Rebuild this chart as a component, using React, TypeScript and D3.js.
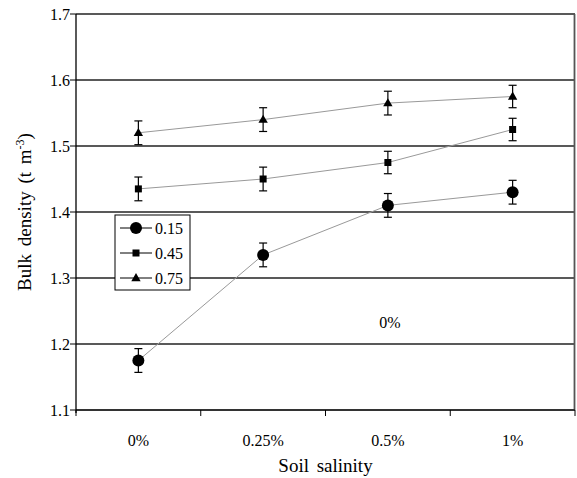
import React from "react";
import * as d3 from "d3";

const categories = ["0%", "0.25%", "0.5%", "1%"];
const seriesNames = ["0.15", "0.45", "0.75"];
const values015 = [1.175, 1.335, 1.41, 1.43];
const values045 = [1.435, 1.45, 1.475, 1.525];
const values075 = [1.52, 1.54, 1.565, 1.575];
const err015 = [0.018, 0.018, 0.018, 0.018];
const err045 = [0.018, 0.018, 0.017, 0.017];
const err075 = [0.018, 0.018, 0.018, 0.017];
const yTicks = [1.1, 1.2, 1.3, 1.4, 1.5, 1.6, 1.7];
const annotation = "0%";

const W = 577;
const H = 478;
const left = 76;
const right = 575;
const top = 14;
const bottom = 410;
const FONT = "'Liberation Serif', 'Times New Roman', Times, serif";
const ts = { fontFamily: FONT };

type Shape = "circle" | "square" | "triangle";
const series = [
  { name: seriesNames[0], values: values015, err: err015, shape: "circle" as Shape },
  { name: seriesNames[1], values: values045, err: err045, shape: "square" as Shape },
  { name: seriesNames[2], values: values075, err: err075, shape: "triangle" as Shape },
];

function Marker({ shape, x, y }: { shape: Shape; x: number; y: number }) {
  if (shape === "circle") return <circle cx={x} cy={y} r={6} fill="#000" />;
  if (shape === "square") return <rect x={x - 3.5} y={y - 3.5} width={7} height={7} fill="#000" />;
  const s = d3.symbol().type(d3.symbolTriangle).size(38)();
  return <path d={s || ""} transform={`translate(${x},${y + 0.5})`} fill="#000" />;
}

export default function App() {
  const x = d3.scaleBand<string>().domain(categories).range([left, right]);
  const y = d3.scaleLinear().domain([1.1, 1.7]).range([bottom, top]);
  const cx = (c: string) => (x(c) ?? 0) + x.bandwidth() / 2;
  const line = d3
    .line<number>()
    .x((_, i) => cx(categories[i]))
    .y((d) => y(d));
  const boundaries = [...categories.map((c) => x(c) ?? 0), right];

  const legendX = 115;
  const legendY = 215;
  const legendW = 75;
  const legendH = 75;

  return (
    <svg width={W} height={H} style={{ position: "absolute", left: 0, top: 0, background: "#fff" }}>
      <rect width={W} height={H} fill="#fff" />
      {yTicks.slice(1).map((t) => (
        <line key={t} x1={left} x2={right} y1={y(t)} y2={y(t)} stroke="#222" strokeWidth={1.3} />
      ))}
      <line x1={right - 0.5} x2={right - 0.5} y1={top} y2={bottom} stroke="#555" strokeWidth={1.8} />
      {yTicks.map((t) => (
        <g key={t}>
          <line x1={left - 6} x2={left} y1={y(t)} y2={y(t)} stroke="#000" strokeWidth={1} />
          <text x={70} y={y(t)} dy="0.35em" textAnchor="end" fontSize={16} fill="#000" style={ts}>
            {t.toFixed(1)}
          </text>
        </g>
      ))}
      <line x1={left} x2={right} y1={bottom} y2={bottom} stroke="#333" strokeWidth={2.2} />
      {boundaries.map((b, i) => (
        <line key={i} x1={b} x2={b} y1={bottom} y2={bottom + 6} stroke="#000" strokeWidth={1} />
      ))}
      {categories.map((c) => (
        <text key={c} x={cx(c)} y={446} textAnchor="middle" fontSize={16} fill="#000" style={ts}>
          {c}
        </text>
      ))}
      <line x1={left} x2={left} y1={top} y2={bottom + 3} stroke="#000" strokeWidth={1.3} />

      {series.map((s) => (
        <path key={s.name} d={line(s.values) || ""} fill="none" stroke="#999" strokeWidth={1} />
      ))}
      {series.map((s) =>
        s.values.map((v, i) => {
          const px = cx(categories[i]);
          const y1 = y(v + s.err[i]);
          const y2 = y(v - s.err[i]);
          return (
            <g key={s.name + i} stroke="#000" strokeWidth={1.2}>
              <line x1={px} x2={px} y1={y1} y2={y2} />
              <line x1={px - 4} x2={px + 4} y1={y1} y2={y1} />
              <line x1={px - 4} x2={px + 4} y1={y2} y2={y2} />
            </g>
          );
        })
      )}
      {series.map((s) =>
        s.values.map((v, i) => <Marker key={s.name + i} shape={s.shape} x={cx(categories[i])} y={y(v)} />)
      )}

      <text x={390} y={328} textAnchor="middle" fontSize={16} fill="#000" style={ts}>
        {annotation}
      </text>

      <rect x={legendX} y={legendY} width={legendW} height={legendH} fill="#fff" stroke="#000" strokeWidth={1} />
      {series.map((s, i) => {
        const ly = legendY + 13 + i * 25;
        return (
          <g key={s.name}>
            <line x1={legendX + 5} x2={legendX + 37} y1={ly} y2={ly} stroke="#000" strokeWidth={1} />
            <Marker shape={s.shape} x={legendX + 21} y={ly} />
            <text x={legendX + 40} y={ly} dy="0.35em" fontSize={16} fill="#000" style={ts}>
              {s.name}
            </text>
          </g>
        );
      })}

      <text x={(left + right) / 2} y={472} textAnchor="middle" fontSize={19} fill="#000" wordSpacing={3} style={ts}>
        Soil salinity
      </text>
      <text
        transform={`translate(31,${(top + bottom) / 2}) rotate(-90)`}
        textAnchor="middle"
        fontSize={19}
        fill="#000"
        wordSpacing={3}
        style={ts}
      >
        Bulk density (t m<tspan fontSize={12} dy={-7}>-3</tspan>
        <tspan dy={7}>)</tspan>
      </text>
    </svg>
  );
}
